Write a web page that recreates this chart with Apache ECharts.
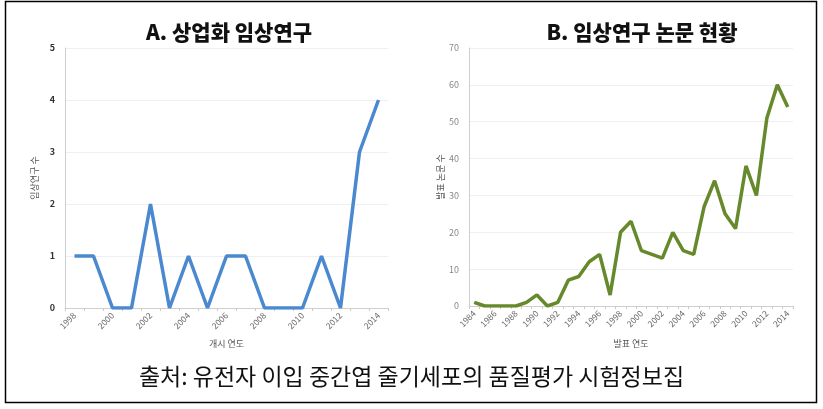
<!DOCTYPE html>
<html>
<head>
<meta charset="utf-8">
<script src="https://cdn.jsdelivr.net/npm/echarts@6/dist/echarts.min.js"></script>
<style>
html,body{margin:0;padding:0;background:#fff;}
#chart{width:823px;height:409px;}
</style>
</head>
<body>
<div id="chart"></div>
<script>
var yearsA = ['1998','1999','2000','2001','2002','2003','2004','2005','2006','2007','2008','2009','2010','2011','2012','2013','2014'];
var valuesA = [1,1,0,0,2,0,1,0,1,1,0,0,0,1,0,3,4];
var yearsB = ['1984','1985','1986','1987','1988','1989','1990','1991','1992','1993','1994','1995','1996','1997','1998','1999','2000','2001','2002','2003','2004','2005','2006','2007','2008','2009','2010','2011','2012','2013','2014'];
var valuesB = [1,0,0,0,0,1,3,0,1,7,8,12,14,3,20,23,15,14,13,20,15,14,27,34,25,21,38,30,51,60,54];
var titleA = 'A. 상업화 임상연구';
var titleB = 'B. 임상연구 논문 현황';
var caption = '출처: 유전자 이입 중간엽 줄기세포의 품질평가 시험정보집';

var FONT = '"Noto Sans CJK KR", "Noto Sans", sans-serif';
var chart = echarts.init(document.getElementById('chart'), null, {renderer:'canvas'});

function xAxisCfg(idx, data, name, gap){
  return {
    type:'category', gridIndex: idx, data:data, boundaryGap:true,
    name:name, nameLocation:'middle', nameGap:gap,
    nameTextStyle:{fontFamily:FONT, fontSize:9, color:'#555'},
    axisLine:{lineStyle:{color:'#cfcfcf', width:1}},
    axisTick:{show:true, interval:0, length:3, alignWithLabel:false, lineStyle:{color:'#d8c8b0'}},
    axisLabel:{interval:1, rotate:45, fontFamily:FONT, fontSize:8.5, color:'#666', margin:6}
  };
}
function yAxisCfg(idx, max, interval, name, gap, labelColor, bold){
  return {
    type:'value', gridIndex: idx, min:0, max:max, interval:interval,
    name:name, nameLocation:'middle', nameGap:gap, nameRotate:90,
    nameTextStyle:{fontFamily:FONT, fontSize:9, color:'#555'},
    axisLine:{show:true, lineStyle:{color:'#cfcfcf', width:1}},
    axisTick:{show:false},
    splitLine:{lineStyle:{color:'#efefef', width:1}},
    axisLabel:{fontFamily:FONT, fontSize:9, color:labelColor, fontWeight:bold?'bold':'normal', margin:10}
  };
}

chart.setOption({
  animation:false,
  title:[
    {text:titleA, left:224, top:17, textAlign:'center', textStyle:{fontFamily:FONT, fontSize:21, fontWeight:900, color:'#111'}},
    {text:titleB, left:637, top:17, textAlign:'center', textStyle:{fontFamily:FONT, fontSize:21, fontWeight:900, color:'#111'}}
  ],
  grid:[
    {left:65, top:48, width:323, height:260},
    {left:469, top:48, width:324, height:258}
  ],
  xAxis:[
    xAxisCfg(0, yearsA, '개시 연도', 31),
    xAxisCfg(1, yearsB, '발표 연도', 33)
  ],
  yAxis:[
    yAxisCfg(0, 5, 1, '임상연구 수', 26, '#333', true),
    yAxisCfg(1, 70, 10, '발표 논문 수', 24, '#888', false)
  ],
  series:[
    {type:'line', xAxisIndex:0, yAxisIndex:0, data:valuesA, symbol:'none', lineStyle:{color:'#4a88cf', width:3.5}},
    {type:'line', xAxisIndex:1, yAxisIndex:1, data:valuesB, symbol:'none', lineStyle:{color:'#66892c', width:3.5}}
  ],
  graphic:[
    {type:'rect', shape:{x:5.5, y:1.5, width:811, height:401}, style:{fill:null, stroke:'#000', lineWidth:1.5}, silent:true},
    {type:'text', left:'center', top:365, style:{text:caption, font:'normal 23px ' + FONT, fill:'#111'}}
  ]
});
</script>
</body>
</html>
